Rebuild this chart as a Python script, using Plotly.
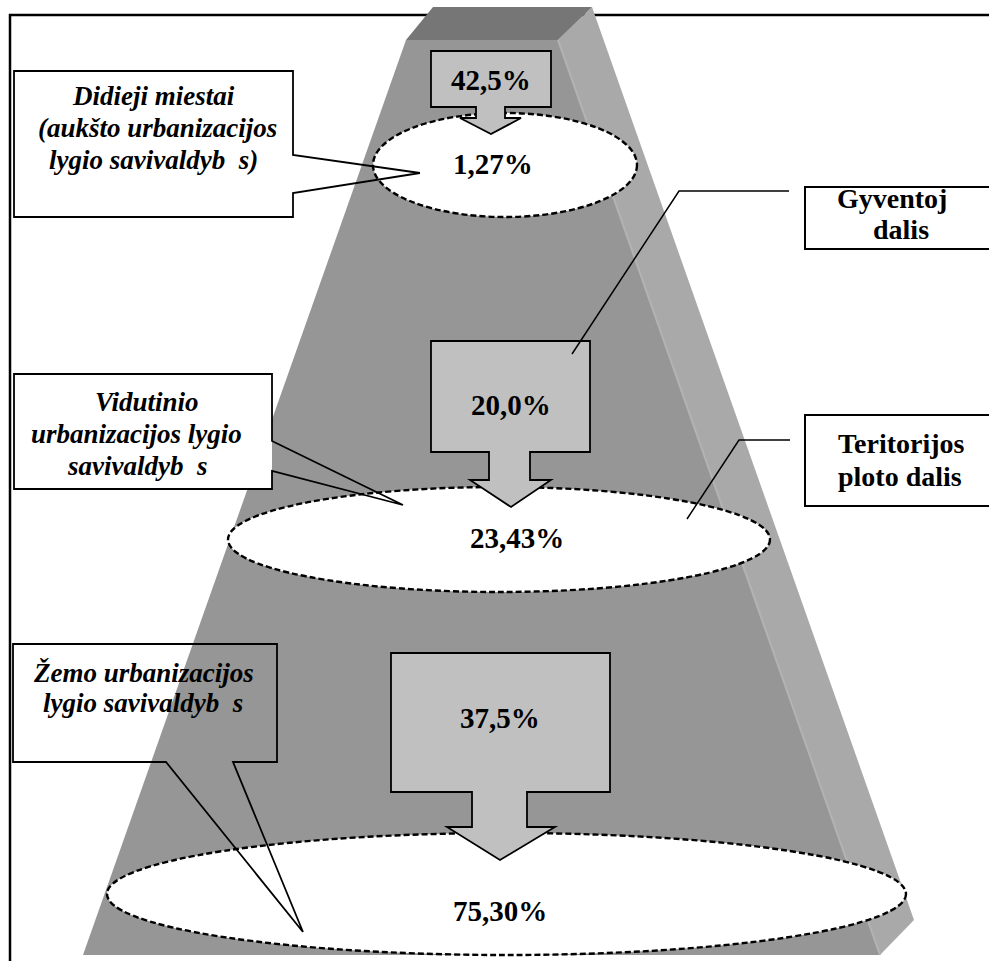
import plotly.graph_objects as go

# ---------------- data ----------------
level_names = [
    ["Didieji miestai", "(aukšto urbanizacijos", "lygio savivaldyb\u00a0 s)"],
    ["Vidutinio", "urbanizacijos lygio", "savivaldyb\u00a0 s"],
    ["Žemo urbanizacijos", "lygio savivaldyb\u00a0 s"],
]
population_share = [42.5, 20.0, 37.5]      # Gyventojų dalis, %
territory_share = [1.27, 23.43, 75.30]     # Teritorijos ploto dalis, %
series_names = [["Gyventoj", "dalis"], ["Teritorijos", "ploto dalis"]]


def pct(v, d):
    return f"{v:.{d}f}".replace(".", ",") + "%"


# ---------------- layout constants ----------------
W, H = 989, 961
FONT = "Liberation Serif"
shapes = []


def path(d, fill="rgba(0,0,0,0)", lc="black", lw=2, dash=None):
    line = dict(color=lc, width=lw)
    if dash:
        line["dash"] = dash
    shapes.append(dict(type="path", path=d, xref="x", yref="y",
                       fillcolor=fill, line=line))


def rect(x0, y0, x1, y1, fill="white", lc="black", lw=2):
    shapes.append(dict(type="rect", x0=x0, y0=y0, x1=x1, y1=y1, xref="x", yref="y",
                       fillcolor=fill, line=dict(color=lc, width=lw)))


def ellipse(x0, y0, x1, y1):
    shapes.append(dict(type="circle", x0=x0, y0=y0, x1=x1, y1=y1, xref="x", yref="y",
                       fillcolor="white",
                       line=dict(color="black", width=2.4, dash="6px,3px")))


# frame
path("M10,961 L10,15 L995,15", lw=2.5)

# pyramid faces
path("M406,40 L558,40 L880,955 L83,955 Z", fill="#969696", lw=0)
path("M558,40 L592,7 L914,920 L880,955 Z", fill="#a9a9a9", lw=0)
path("M406,40 L433,7 L592,7 L558,40 Z", fill="#767676", lw=0)
path("M558,40 L880,955", lc="#b3b3b3", lw=2)

# ellipses (territory share)
ellipse_boxes = [(373, 113, 637, 217), (228, 487, 770, 592), (107, 833, 906, 955)]
for b in ellipse_boxes:
    ellipse(*b)


# block arrows (population share)
def block_arrow(bx0, bx1, by0, by1, sx0, sx1, hy, hx0, hx1, tipx, tipy):
    d = (f"M{bx0},{by0} L{bx1},{by0} L{bx1},{by1} L{sx1},{by1} L{sx1},{hy} "
         f"L{hx1},{hy} L{tipx},{tipy} L{hx0},{hy} L{sx0},{hy} L{sx0},{by1} L{bx0},{by1} Z")
    path(d, fill="#c0c0c0", lw=1.8)


arrow_geo = [
    (431, 551, 51, 107, 476, 505, 118, 460, 521, 491, 134),
    (431, 590, 341, 452, 489, 530, 480, 470, 551, 511, 507),
    (391, 610, 653, 792, 472, 527, 827, 447, 555, 500, 860),
]
for g in arrow_geo:
    block_arrow(*g)

# callout: Didieji miestai
rect(14, 71, 293, 217, lw=0)
path("M420,173 L293,155 L293,71 L14,71 L14,217 L293,217 L293,193 L420,173", lw=1.8)
# callout: Vidutinio
rect(14, 374, 272, 489, lw=0)
path("M403,505 L272,441 L272,374 L14,374 L14,489 L272,489 L272,471 L403,505", lw=1.8)
# callout: Žemo (transparent)
path("M303,932 L166,762 L13,762 L13,644 L277,644 L277,762 L233,762 L303,932", lw=1.8)

# right-hand legend boxes with leader lines
rect(805, 187, 1000, 249, lw=2)
path("M789,191 L679,191 L572,354", lw=1.5)
rect(805, 415, 1000, 506, lw=2)
path("M790,440 L739,440 L687,519", lw=1.5)

# ---------------- annotations ----------------
annotations = []


def text(x, y, s, size=28, italic=False):
    annotations.append(dict(
        x=x, y=y, xref="x", yref="y", text=s, showarrow=False,
        xanchor="center", yanchor="middle",
        font=dict(family=FONT, size=size, color="black", weight="bold",
                  style="italic" if italic else "normal")))


# population share labels inside arrows
pop_pos = [(491, 80), (511, 405), (500, 718)]
for (x, y), v in zip(pop_pos, population_share):
    text(x, y, pct(v, 1), size=29)

# territory share labels inside ellipses
ter_pos = [(493, 164), (517, 538), (500, 911)]
for (x, y), v in zip(ter_pos, territory_share):
    text(x, y, pct(v, 2), size=29)

# level labels in callouts
level_pos = [
    [(153, 96), (157, 128), (153, 160)],
    [(147, 402), (136, 434), (137, 466)],
    [(143, 673), (143, 703)],
]
for lines, poss in zip(level_names, level_pos):
    for s, (x, y) in zip(lines, poss):
        text(x, y, s, size=27, italic=True)

# series labels in right boxes
series_pos = [[(892, 198), (901, 229)], [(901, 443), (900, 476)]]
for lines, poss in zip(series_names, series_pos):
    for s, (x, y) in zip(lines, poss):
        text(x, y, s, size=28)

fig = go.Figure()
fig.update_layout(
    width=W, height=H, autosize=False,
    margin=dict(l=0, r=0, t=0, b=0, pad=0),
    paper_bgcolor="white", plot_bgcolor="white",
    xaxis=dict(range=[0, W], visible=False, fixedrange=True),
    yaxis=dict(range=[H, 0], visible=False, fixedrange=True),
    shapes=shapes, annotations=annotations, showlegend=False,
)
fig.write_html("out.html", config={"displayModeBar": False},
               post_script="document.body.style.margin='0px';")
